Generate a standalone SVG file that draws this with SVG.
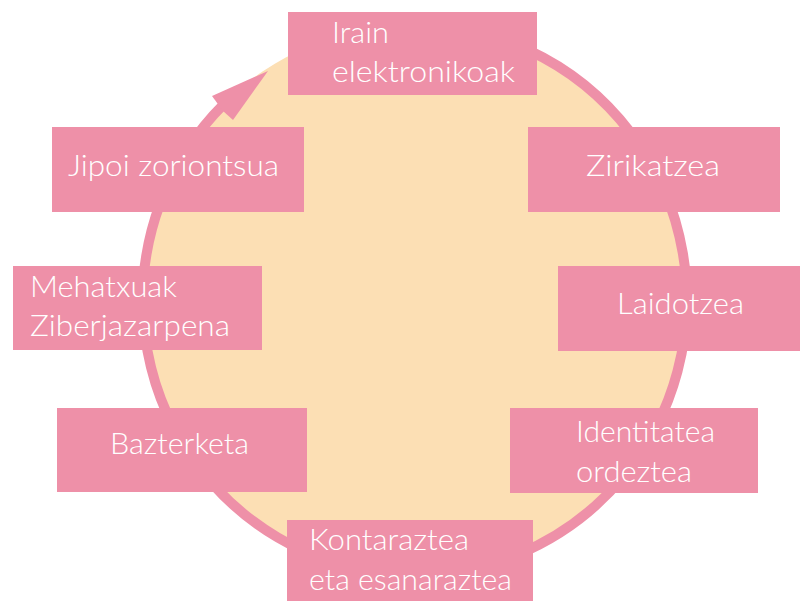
<svg xmlns="http://www.w3.org/2000/svg" width="800" height="601" viewBox="0 0 800 601">
<style>
.box{fill:#EE90A8}
.t{fill:#FFFFFF;font-family:Lato,"Open Sans","DejaVu Sans",sans-serif;font-size:30px;font-weight:300}
</style>
<rect width="800" height="601" fill="#FFFFFF"/>
<ellipse cx="414" cy="300" rx="272" ry="275" fill="#FCDFB4"/>
<g id="connectors">
<path d="M 414 25 A 272 275 0 1 1 224 104" fill="none" stroke="#EE90A8" stroke-width="10"/>
<polygon points="268,71 233,120 223,111 212,96" fill="#EE90A8"/>
</g>
<g id="n1"><rect class="box" x="288" y="12" width="249" height="83"/><text class="t" x="332" y="43" textLength="57" lengthAdjust="spacingAndGlyphs">Irain</text><text class="t" x="332" y="82" textLength="183" lengthAdjust="spacingAndGlyphs">elektronikoak</text></g>
<g id="n2"><rect class="box" x="528" y="127" width="252" height="85"/><text class="t" x="586" y="176" textLength="134" lengthAdjust="spacingAndGlyphs">Zirikatzea</text></g>
<g id="n3"><rect class="box" x="558" y="266" width="242" height="85"/><text class="t" x="617" y="314" textLength="127" lengthAdjust="spacingAndGlyphs">Laidotzea</text></g>
<g id="n4"><rect class="box" x="510" y="408" width="248" height="85"/><text class="t" x="576" y="442" textLength="139" lengthAdjust="spacingAndGlyphs">Identitatea</text><text class="t" x="576" y="482" textLength="116" lengthAdjust="spacingAndGlyphs">ordeztea</text></g>
<g id="n5"><rect class="box" x="287" y="520" width="246" height="81"/><text class="t" x="309" y="550" textLength="160" lengthAdjust="spacingAndGlyphs">Kontaraztea</text><text class="t" x="309" y="590" textLength="203" lengthAdjust="spacingAndGlyphs">eta esanaraztea</text></g>
<g id="n6"><rect class="box" x="57" y="408" width="250" height="84"/><text class="t" x="110" y="454" textLength="139" lengthAdjust="spacingAndGlyphs">Bazterketa</text></g>
<g id="n7"><rect class="box" x="13" y="266" width="249" height="84"/><text class="t" x="30" y="297" textLength="147" lengthAdjust="spacingAndGlyphs">Mehatxuak</text><text class="t" x="30" y="336" textLength="200" lengthAdjust="spacingAndGlyphs">Ziberjazarpena</text></g>
<g id="n8"><rect class="box" x="52" y="127" width="252" height="85"/><text class="t" x="68" y="176" textLength="211" lengthAdjust="spacingAndGlyphs">Jipoi zoriontsua</text></g>
</svg>
